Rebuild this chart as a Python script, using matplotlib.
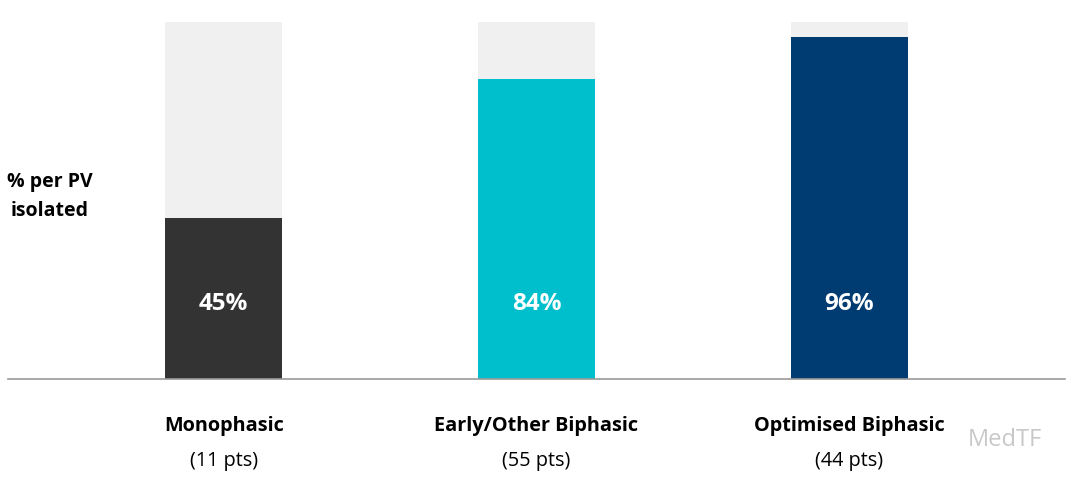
import matplotlib.pyplot as plt
import matplotlib.transforms as mtransforms

categories = ["Monophasic", "Early/Other Biphasic", "Optimised Biphasic"]
counts = ["(11 pts)", "(55 pts)", "(44 pts)"]
isolated_pct = [45, 84, 96]
bar_colors = ["#333333", "#00bfcc", "#003b71"]

plt.rcParams["font.family"] = ["Open Sans", "DejaVu Sans"]

W, H = 1080, 486
fig = plt.figure(figsize=(W / 100, H / 100), dpi=100)
ax = fig.add_axes([8 / W, 107.5 / H, 1057 / W, 356 / H])

x = list(range(len(categories)))
width = 0.374
ax.bar(x, [100] * len(x), width=width, color="#f0f0f0", zorder=1)
ax.bar(x, isolated_pct, width=width, color=bar_colors, zorder=2)

for xi, v in zip(x, isolated_pct):
    ax.text(xi, 21, f"{v}%", ha="center", va="center", color="white",
            fontsize=17.5, fontweight="bold", zorder=3)

ax.set_xlim(-0.69, 2.69)
ax.set_ylim(0, 100)
ax.set_xticks([])
ax.set_yticks([])
for name, spine in ax.spines.items():
    spine.set_visible(name == "bottom")
ax.spines["bottom"].set_color("#9a9a9a")
ax.spines["bottom"].set_linewidth(1.2)

trans = mtransforms.blended_transform_factory(ax.transData, fig.transFigure)
for xi, cat, n in zip(x, categories, counts):
    ax.text(xi, 1 - 426 / H, cat, transform=trans, ha="center", va="center",
            fontsize=14.3, fontweight="bold", color="#000000")
    ax.text(xi, 1 - 461 / H, n, transform=trans, ha="center", va="center",
            fontsize=14.3, color="#000000")

fig.text(50 / W, 1 - 197 / H, "% per PV\nisolated", ha="center", va="center",
         fontsize=14, fontweight="bold", color="#000000", linespacing=1.6)

# watermark
fig.text(1005 / W, 1 - 440 / H, "MedTF", ha="center", va="center",
         fontsize=17, color="#c8c8c8")

fig.savefig("out.png", dpi=100)
